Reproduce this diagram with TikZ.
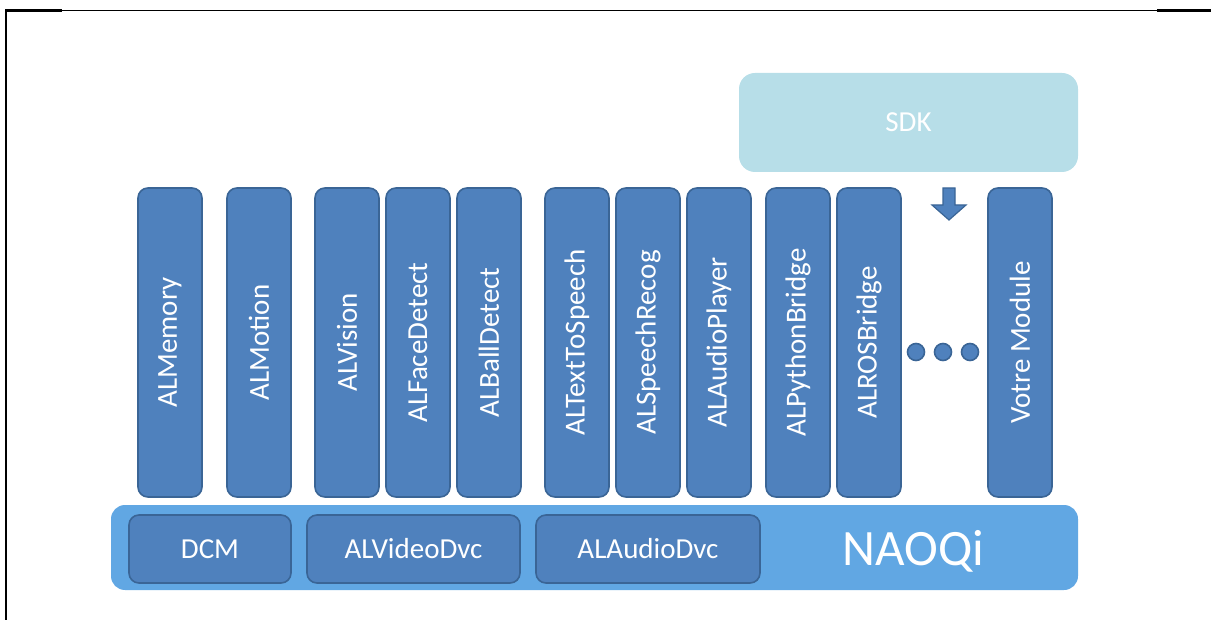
\documentclass[tikz,border=0pt]{standalone}
\usepackage{fontspec}
\setmainfont{Carlito}
\usetikzlibrary{calc}
\definecolor{modfill}{HTML}{4F81BD}
\definecolor{modedge}{HTML}{3A6596}
\definecolor{busfill}{HTML}{61A7E3}
\definecolor{sdkfill}{HTML}{B7DEE8}

\begin{document}
\begin{tikzpicture}[x=0.5pt,y=-0.5pt,
    module/.style={draw=modedge, line width=0.8pt, fill=modfill, rounded corners=5pt,
      rotate=90, minimum width=154.5pt, minimum height=32pt, inner sep=0pt,
      text=white, font=\fontsize{14.5}{17}\selectfont},
    dvc/.style={draw=modedge, line width=0.8pt, fill=modfill, rounded corners=5pt,
      minimum height=34pt, inner sep=0pt, text=white, font=\fontsize{14.5}{17}\selectfont},
    dot/.style={draw=modedge, line width=0.8pt, fill=modfill}]
  \useasboundingbox (0,0) rectangle (1211,620);

  % page frame
  \draw[line width=1.2pt] (6,620) -- (6,10.5) -- (62,10.5);
  \draw[line width=0.6pt] (62,10.5) -- (1157,10.5);
  \draw[line width=1.5pt] (1157,10.5) -- (1211,10.5);

  % SDK
  \node[fill=sdkfill, rounded corners=8pt, minimum width=169.5pt, minimum height=49.5pt,
    inner sep=0pt, text=white, font=\fontsize{14.5}{17}\selectfont] (sdk) at (908.5,122.5) {SDK};
  \fill[modfill, draw=modedge, line width=0.6pt]
    (943,188) -- (955,188) -- (955,205) -- (966,205) -- (949,220) -- (932,205) -- (943,205) -- cycle;

  % modules
  \node[module] (m1) at (170,342.5) {ALMemory};
  \node[module] (m2) at ($(m1)+(89,0)$) {ALMotion};
  \node[module] (m3) at ($(m2)+(88,0)$) {ALVision};
  \node[module] (m4) at ($(m3)+(71,0)$) {ALFaceDetect};
  \node[module] (m5) at ($(m4)+(71,0)$) {ALBallDetect};
  \node[module] (m6) at ($(m5)+(88,0)$) {ALTextToSpeech};
  \node[module] (m7) at ($(m6)+(71,0)$) {ALSpeechRecog};
  \node[module] (m8) at ($(m7)+(71,0)$) {ALAudioPlayer};
  \node[module] (m9) at ($(m8)+(79,0)$) {ALPythonBridge};
  \node[module] (m10) at ($(m9)+(71,0)$) {ALROSBridge};
  \node[module] (m11) at ($(m10)+(151,0)$) {Votre Module};

  \draw[dot] (916,352) circle[radius=8.5];
  \draw[dot] (943,352) circle[radius=8.5];
  \draw[dot] (970,352) circle[radius=8.5];

  % NAOQi bus
  \node[fill=busfill, rounded corners=7pt, minimum width=483.5pt, minimum height=42.5pt,
    inner sep=0pt] (bus) at (594.5,547.5) {};
  \node[text=white, font=\fontsize{25.5}{30}\selectfont] (nq) at ($(bus.east)+(-165,4)$) {NAOQi};
  \node[dvc, minimum width=81pt] (d1) at (210,549) {DCM};
  \node[dvc, minimum width=106.5pt] (d2) at (413.5,549) {ALVideoDvc};
  \node[dvc, minimum width=112pt] (d3) at (648,549) {ALAudioDvc};
\end{tikzpicture}
\end{document}
